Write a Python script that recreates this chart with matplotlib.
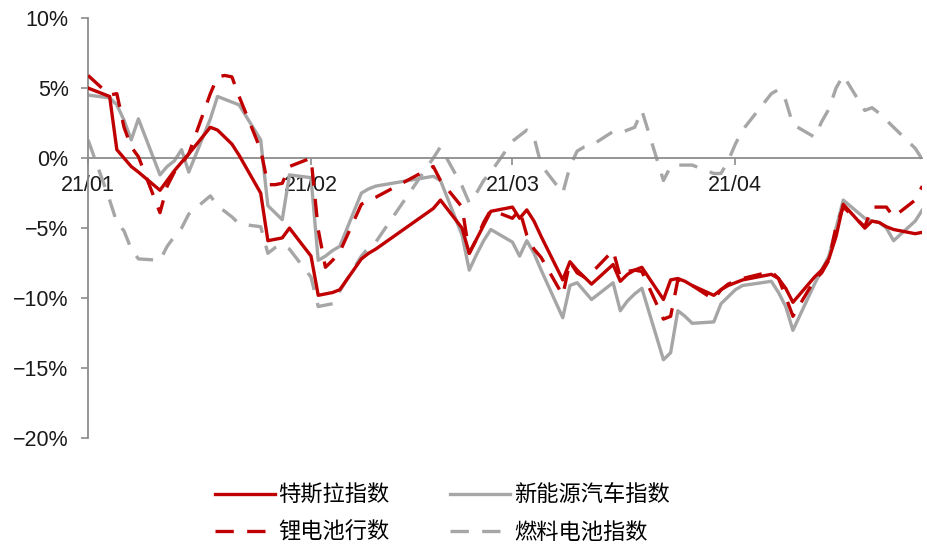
import pandas as pd
import matplotlib
matplotlib.use("Agg")
import matplotlib.pyplot as plt
import matplotlib.dates as mdates
from matplotlib.ticker import FuncFormatter

# trading days (first point is the base)
dates = [
    "2021-01-01", "2021-01-04", "2021-01-05", "2021-01-06", "2021-01-07", "2021-01-08",
    "2021-01-11", "2021-01-12", "2021-01-13", "2021-01-14", "2021-01-15",
    "2021-01-18", "2021-01-19", "2021-01-20", "2021-01-21", "2021-01-22",
    "2021-01-25", "2021-01-26", "2021-01-27", "2021-01-28", "2021-01-29",
    "2021-02-01", "2021-02-02", "2021-02-03", "2021-02-04", "2021-02-05",
    "2021-02-08", "2021-02-09", "2021-02-10", "2021-02-18", "2021-02-19",
    "2021-02-22", "2021-02-23", "2021-02-24", "2021-02-25", "2021-02-26",
    "2021-03-01", "2021-03-02", "2021-03-03", "2021-03-04", "2021-03-05",
    "2021-03-08", "2021-03-09", "2021-03-10", "2021-03-11", "2021-03-12",
    "2021-03-15", "2021-03-16", "2021-03-17", "2021-03-18", "2021-03-19",
    "2021-03-22", "2021-03-23", "2021-03-24", "2021-03-25", "2021-03-26",
    "2021-03-29", "2021-03-30", "2021-03-31", "2021-04-01", "2021-04-02",
    "2021-04-06", "2021-04-07", "2021-04-08", "2021-04-09",
    "2021-04-12", "2021-04-13", "2021-04-14", "2021-04-15", "2021-04-16",
    "2021-04-19", "2021-04-20", "2021-04-21", "2021-04-22", "2021-04-23",
    "2021-04-26", "2021-04-27",
]

# values in %
tesla = [
    5.0, 4.4, 0.6, 0.0, -0.6, -1.0,
    -2.3, -1.6, -0.9, -0.3, 0.3,
    2.2, 2.0, 1.5, 1.0, 0.2,
    -2.5, -5.9, -5.8, -5.7, -5.0,
    -7.0, -9.8, -9.7, -9.6, -9.4,
    -7.2, -6.8, -6.5, -3.6, -3.0,
    -5.0, -6.8, -5.8, -4.8, -3.8,
    -3.5, -4.3, -3.7, -4.5, -5.6,
    -8.7, -7.4, -8.0, -8.5, -9.0,
    -7.6, -8.8, -8.3, -8.0, -7.8,
    -10.1, -8.7, -8.6, -8.8, -9.1,
    -9.8, -9.4, -9.1, -8.9, -8.7,
    -8.3, -8.6, -9.3, -10.3,
    -8.5, -8.0, -7.2, -5.6, -3.3,
    -5.0, -4.5, -4.6, -4.9, -5.1,
    -5.4, -5.3,
]
nev = [
    4.5, 4.3, 3.8, 2.7, 1.3, 2.8,
    -1.2, -0.6, -0.2, 0.6, -1.0,
    2.8, 4.4, 4.2, 4.0, 3.8,
    1.3, -3.4, -3.9, -4.4, -1.2,
    -1.4, -7.3, -7.0, -6.6, -6.3,
    -2.5, -2.2, -2.0, -1.3, -1.6,
    -5.5, -8.0, -6.9, -5.9, -5.1,
    -6.0, -7.0, -5.9, -6.8, -8.0,
    -11.4, -9.1, -8.9, -9.5, -10.1,
    -8.9, -10.9, -10.2, -9.7, -9.3,
    -14.4, -13.9, -10.9, -11.3, -11.8,
    -11.7, -10.4, -9.9, -9.4, -9.1,
    -8.8, -9.6, -10.6, -12.3,
    -9.0, -8.0, -7.0, -5.0, -3.0,
    -4.3, -4.5, -4.6, -5.0, -5.9,
    -4.5, -3.7,
]
lithium = [
    5.9, 4.5, 4.6, 2.2, 0.8, 0.1,
    -3.9, -2.0, -1.0, -0.4, 0.3,
    4.6, 5.8, 5.9, 5.8, 4.4,
    0.6, -1.9, -1.9, -1.8, -0.6,
    0.0, -5.1, -7.8, -7.3, -6.7,
    -3.3, -3.0, -2.8, -0.6, -1.6,
    -3.5, -6.8, -5.8, -4.6, -3.7,
    -4.3, -3.7, -5.5, -6.5, -7.1,
    -9.8, -7.4, -8.2, -8.5, -8.2,
    -6.6, -8.5, -8.1, -8.0, -8.1,
    -11.5, -11.3, -8.7, -8.8, -9.1,
    -10.1, -9.4, -9.0, -8.8, -8.6,
    -8.1, -8.6, -9.9, -11.3,
    -8.7, -8.2, -7.3, -4.9, -3.5,
    -4.9, -3.5, -3.5, -3.5, -4.2,
    -3.0, -2.0,
]
fuel_cell = [
    1.3, -3.0, -4.6, -5.2, -6.5, -7.2,
    -7.3, -6.3, -5.6, -5.0, -4.0,
    -2.7, -3.4, -3.8, -4.2, -4.7,
    -4.9, -6.8, -6.4, -6.2, -6.5,
    -8.5, -10.6, -10.5, -10.4, -9.5,
    -7.0, -6.4, -6.0, 0.0, 0.8,
    -2.0, -3.2, -2.5, -1.6, -1.0,
    1.2, 1.6, 2.0, 1.5, -0.5,
    -2.5, -0.6, 0.5, 0.8, 0.9,
    1.9, 1.8, 2.0, 2.2, 3.4,
    -1.6, -0.6, -0.5, -0.5, -0.5,
    -1.1, -1.1, -0.2, 1.0, 2.0,
    4.6, 4.9, 4.1, 2.4,
    1.5, 2.6, 3.5, 5.0, 5.9,
    3.4, 3.6, 3.2, 2.7, 2.2,
    0.7, -0.1,
]

labels = ["特斯拉指数", "新能源汽车指数", "锂电池行数", "燃料电池指数"]
month_ticks = ["2021-01-01", "2021-02-01", "2021-03-01", "2021-04-01"]

x = pd.to_datetime(dates)
RED = "#C00000"
GREY = "#A6A6A6"
DASH = (0, (5.5, 4))

fig = plt.figure(figsize=(9.27, 5.47), dpi=100)
ax = fig.add_axes([0.095, 0.199, 0.900, 0.768])

l_nev, = ax.plot(x, nev, color=GREY, lw=2.4, zorder=2)
l_fc, = ax.plot(x, fuel_cell, color=GREY, lw=2.4, ls=DASH, zorder=2)
l_li, = ax.plot(x, lithium, color=RED, lw=2.4, ls=DASH, zorder=3)
l_ts, = ax.plot(x, tesla, color=RED, lw=2.4, zorder=4)

ax.set_ylim(-20, 10)
ax.set_yticks(range(-20, 11, 5))
ax.yaxis.set_major_formatter(FuncFormatter(lambda v, p: f"{v:.0f}%".replace("-", "\u2212")))
ax.set_xlim(pd.Timestamp("2021-01-01"), pd.Timestamp("2021-04-27"))
ax.set_xticks(pd.to_datetime(month_ticks))
ax.xaxis.set_major_formatter(mdates.DateFormatter("%y/%m"))

for s in ["top", "right"]:
    ax.spines[s].set_visible(False)
ax.spines["bottom"].set_position(("data", 0))
for s in ["left", "bottom"]:
    ax.spines[s].set_color("#8C8C8C")
    ax.spines[s].set_linewidth(1.3)
ax.tick_params(axis="both", colors="#8C8C8C", length=5, width=1.2,
               labelcolor="#1a1a1a", labelsize=15.5)
ax.tick_params(axis="y", pad=9)
ax.tick_params(axis="x", pad=7)
for t in ax.get_xticklabels() + ax.get_yticklabels():
    t.set_fontfamily("Liberation Sans")

# ncol=2 fills column by column
fig.legend([l_ts, l_li, l_nev, l_fc],
           [labels[0], labels[2], labels[1], labels[3]],
           loc="upper left", bbox_to_anchor=(0.21, 0.152), ncol=2, frameon=False,
           prop={"family": ["Noto Sans CJK SC", "DejaVu Sans"], "size": 16},
           handlelength=2.7, handletextpad=0.15, columnspacing=2.75,
           labelspacing=0.62)

fig.savefig("out.png", dpi=100)
